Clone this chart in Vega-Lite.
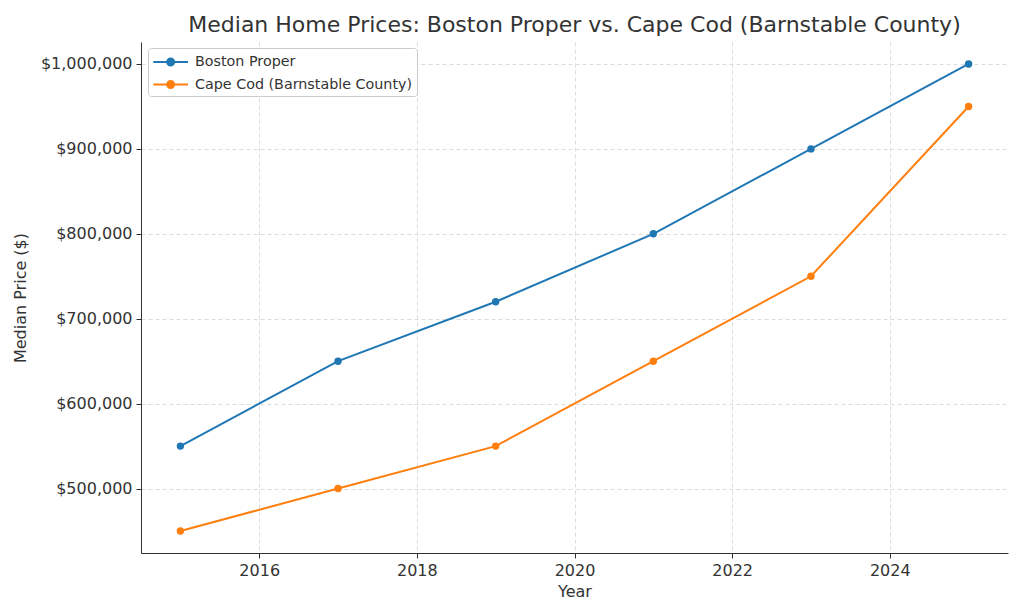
{
  "$schema": "https://vega.github.io/schema/vega-lite/v6.json",
  "width": 867,
  "height": 511,
  "autosize": "none",
  "padding": {"left": 141, "top": 42, "right": 16, "bottom": 61},
  "background": "white",
  "config": {
    "font": "DejaVu Sans",
    "view": {"stroke": null},
    "axis": {
      "labelFontSize": 16,
      "titleFontSize": 16,
      "titleFontWeight": "normal",
      "labelColor": "#333",
      "titleColor": "#333",
      "domainColor": "#333",
      "tickColor": "#333",
      "gridColor": "#dcdcdc",
      "gridDash": [4, 3],
      "tickSize": 5,
      "labelPadding": 4
    }
  },
  "title": {
    "text": "Median Home Prices: Boston Proper vs. Cape Cod (Barnstable County)",
    "fontSize": 22,
    "fontWeight": "normal",
    "color": "#333",
    "anchor": "middle",
    "offset": 5
  },
  "data": {
    "values": [
      {"year": 2015, "price": 550000, "region": "Boston Proper"},
      {"year": 2017, "price": 650000, "region": "Boston Proper"},
      {"year": 2019, "price": 720000, "region": "Boston Proper"},
      {"year": 2021, "price": 800000, "region": "Boston Proper"},
      {"year": 2023, "price": 900000, "region": "Boston Proper"},
      {"year": 2025, "price": 1000000, "region": "Boston Proper"},
      {"year": 2015, "price": 450000, "region": "Cape Cod (Barnstable County)"},
      {"year": 2017, "price": 500000, "region": "Cape Cod (Barnstable County)"},
      {"year": 2019, "price": 550000, "region": "Cape Cod (Barnstable County)"},
      {"year": 2021, "price": 650000, "region": "Cape Cod (Barnstable County)"},
      {"year": 2023, "price": 750000, "region": "Cape Cod (Barnstable County)"},
      {"year": 2025, "price": 950000, "region": "Cape Cod (Barnstable County)"}
    ]
  },
  "encoding": {
    "x": {
      "field": "year",
      "type": "quantitative",
      "title": "Year",
      "scale": {"domain": [2014.5, 2025.5], "nice": false, "zero": false},
      "axis": {"values": [2016, 2018, 2020, 2022, 2024], "format": "d", "titlePadding": 5}
    },
    "y": {
      "field": "price",
      "type": "quantitative",
      "title": "Median Price ($)",
      "scale": {"domain": [424100, 1025900], "nice": false, "zero": false},
      "axis": {"values": [500000, 600000, 700000, 800000, 900000, 1000000], "format": "$,d", "titlePadding": 12}
    },
    "color": {
      "field": "region",
      "type": "nominal",
      "scale": {"domain": ["Boston Proper", "Cape Cod (Barnstable County)"], "range": ["#1f77b4", "#ff7f0e"]},
      "legend": {
        "title": null,
        "orient": "none",
        "legendX": 7,
        "legendY": 6,
        "labelFontSize": 14.3,
        "labelColor": "#333",
        "labelLimit": 0,
        "labelOffset": 23,
        "strokeColor": "#ccc",
        "fillColor": "white",
        "padding": 4,
        "cornerRadius": 3,
        "symbolType": "M-1,0H3M0.6,0A0.4,0.4,0,1,1,1.4,0A0.4,0.4,0,1,1,0.6,0",
        "symbolSize": 300,
        "symbolStrokeWidth": 2,
        "rowPadding": 4.5
      }
    }
  },
  "layer": [
    {"mark": {"type": "line", "strokeWidth": 2}},
    {"mark": {"type": "circle", "size": 55, "opacity": 1}}
  ]
}
